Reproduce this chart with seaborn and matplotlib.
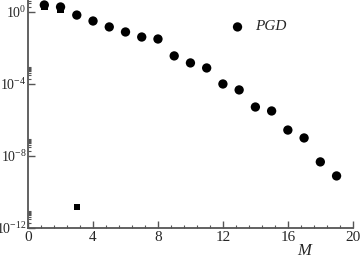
import numpy as np
import pandas as pd
import matplotlib
matplotlib.use('Agg')
import matplotlib.pyplot as plt
import seaborn as sns
from matplotlib.ticker import FixedLocator, FuncFormatter, MultipleLocator

sns.set_style('ticks')
plt.rcParams['font.family'] = ['Liberation Serif', 'DejaVu Serif']
plt.rcParams['mathtext.fontset'] = 'stix'

# circles (PGD)
m_pgd = [1, 2, 3, 4, 5, 6, 7, 8, 9, 10, 11, 12, 13, 14, 15, 16, 17, 18, 19]
log_pgd = [0.39, 0.28, -0.17, -0.5, -0.83, -1.11, -1.39, -1.5, -2.44, -2.83,
           -3.11, -4.0, -4.33, -5.28, -5.5, -6.56, -7.0, -8.33, -9.11]
# squares
m_sq = [1, 2, 3]
log_sq = [0.3, 0.15, -10.83]

pgd = pd.DataFrame({'M': m_pgd, 'P': 10.0 ** np.array(log_pgd)})
sq = pd.DataFrame({'M': m_sq, 'P': 10.0 ** np.array(log_sq)})

fig = plt.figure(figsize=(3.6, 2.62), dpi=100)
ax = fig.add_axes([0.078, 0.13, 0.902, 0.87])

sns.scatterplot(data=sq, x='M', y='P', marker='s', s=22, color='black',
                edgecolor='none', ax=ax, zorder=3)
sns.scatterplot(data=pgd, x='M', y='P', marker='o', s=45, color='black',
                edgecolor='none', ax=ax, zorder=4)

ax.set_yscale('log')
ax.set_xlim(0, 20)
ax.set_ylim(1e-12, 10 ** 0.667)

ax.xaxis.set_major_locator(MultipleLocator(4))
ax.xaxis.set_minor_locator(MultipleLocator(0.8))
majors = [1e-12, 1e-8, 1e-4, 1e0]
ax.yaxis.set_major_locator(FixedLocator(majors))
ax.yaxis.set_minor_locator(FixedLocator([j * v for v in majors for j in range(2, 10)]))
ax.yaxis.set_major_formatter(FuncFormatter(lambda v, p: r'$\mathregular{10^{%d}}$' % int(round(np.log10(v)))))

for s in ['top', 'right']:
    ax.spines[s].set_visible(False)
for s in ['left', 'bottom']:
    ax.spines[s].set_color('#555555')
    ax.spines[s].set_linewidth(1.3)

ax.tick_params(which='major', direction='in', length=5, width=1, color='#555555',
               labelsize=11, pad=2)
ax.tick_params(axis='y', which='major', labelsize=10, pad=1)
ax.tick_params(which='minor', direction='in', length=2.5, width=0.8, color='#555555')

ax.set_xlabel('')
ax.set_ylabel('')
ax.text(17, 10 ** -13.3, 'M', fontstyle='italic', fontsize=12, ha='center', va='center')

ax.scatter([12.9], [10 ** -0.83], marker='o', s=45, color='black', edgecolor='none')
ax.text(14.0, 10 ** -0.83, 'PGD', fontstyle='italic', fontsize=11, va='center')
ax.patch.set_visible(False)

fig.savefig('out.png', dpi=100)
